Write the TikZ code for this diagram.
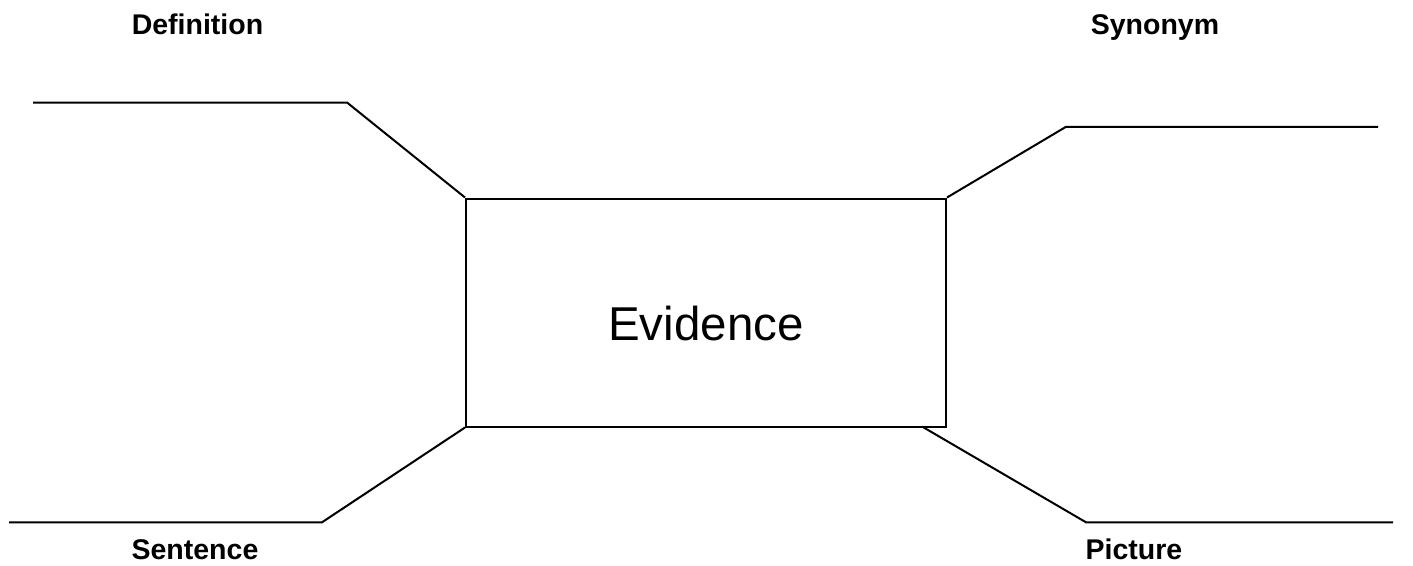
\documentclass[tikz,border=0pt]{standalone}
\usepackage{fontspec}
\setmainfont{Liberation Sans}
\begin{document}
\begin{tikzpicture}[x=1pt,y=-1pt,
  ln/.style={line width=2pt, line join=miter},
  lbl/.style={anchor=base, inner sep=0pt, font=\fontsize{28.5}{34}\selectfont\bfseries},
  box/.style={draw, line width=2pt, minimum width=480pt, minimum height=228pt, inner sep=0pt}]
\useasboundingbox (0,0) rectangle (1413,565);
\node[box] (ev) at (706,312.5) {};
\node[anchor=base, inner sep=0pt, font=\fontsize{47.5}{56}\selectfont] (evt) at (706,340.7) {Evidence};
% top-left
\coordinate (k1) at (347,102.5);
\coordinate (e1) at (33,102.5);
% top-right
\coordinate (k2) at (1066,126.8);
\coordinate (e2) at (1378,126.8);
% bottom-left
\coordinate (k3) at (322,522.3);
\coordinate (e3) at (9,522.3);
% bottom-right
\coordinate (s4) at (922,426.5);
\coordinate (k4) at (1086,522.3);
\coordinate (e4) at (1393,522.3);
\draw[ln] (ev.north west) -- (k1) -- (e1);
\draw[ln] (ev.north east) -- (k2) -- (e2);
\draw[ln] (ev.south west) -- (k3) -- (e3);
\draw[ln] (s4) -- (k4) -- (e4);
\node[lbl] (def) at (197.5,34) {Definition};
\node[lbl] (syn) at (1155,34) {Synonym};
\node[lbl] (sen) at (195,559) {Sentence};
\node[lbl] (pic) at (1134,559) {Picture};
\end{tikzpicture}
\end{document}
